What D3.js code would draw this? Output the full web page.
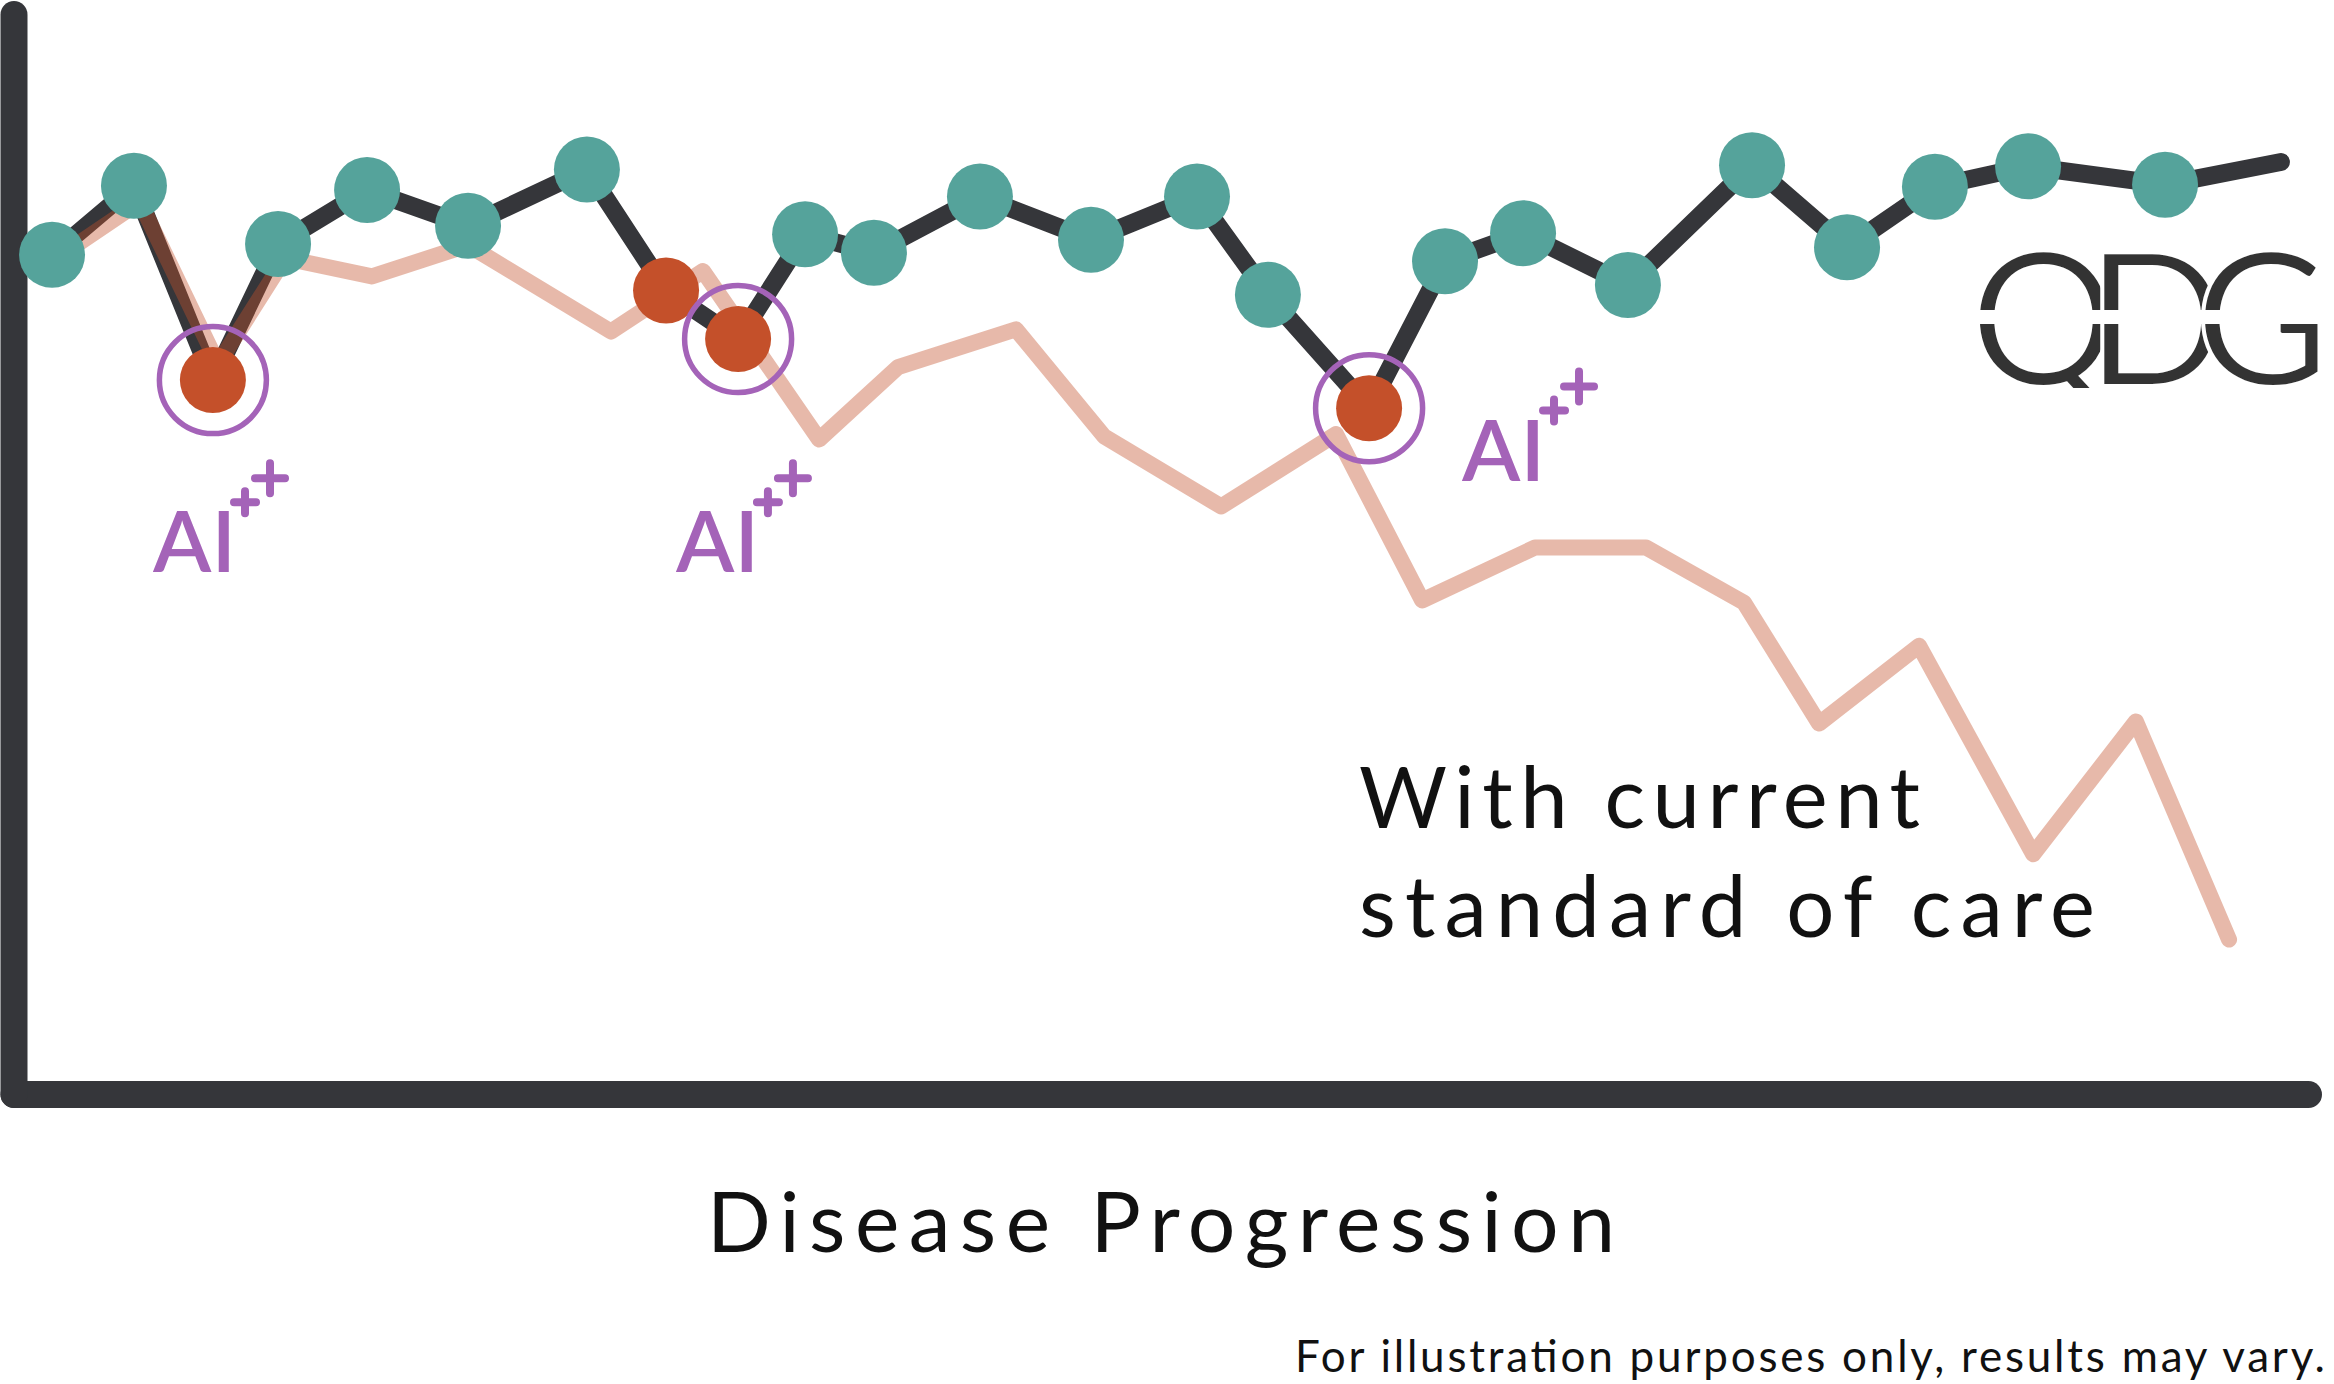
<!DOCTYPE html>
<html><head><meta charset="utf-8">
<script src="https://cdn.jsdelivr.net/npm/d3@7"></script>
<style>html,body{margin:0;padding:0;background:#fff;} svg{display:block;}</style>
</head><body>
<svg id="chart" width="2334" height="1384"></svg>
<script>
// ---- data (normalised units: x = disease progression 0..100, y = health 0..100)
const aiProgress = [1.68, 5.25, 8.69, 11.53, 15.41, 19.81, 24.99, 28.44, 31.58, 34.50, 37.50, 42.12, 46.96, 51.58, 54.67, 59.08, 62.39, 65.79, 70.36, 75.77, 79.91, 83.74, 87.80, 93.77, 98.82];
const aiHealth   = [77.7, 84.1, 66.1, 78.7, 83.7, 80.4, 85.6, 74.4, 69.9, 79.6, 77.9, 83.1, 79.1, 83.1, 74.0, 63.5, 77.1, 79.7, 74.9, 86.0, 78.4, 84.0, 85.9, 84.2, 86.3];
// n = checkpoint, e = adverse event, i = adverse event with AI intervention, "" = no marker
const aiMarker   = ["n","n","i","n","n","n","n","e","i","n","n","n","n","n","n","i","n","n","n","n","n","n","n","n",""];
const socProgress = [1.68, 5.51, 8.91, 11.84, 15.62, 19.81, 26.04, 30.05, 35.11, 38.55, 43.69, 47.53, 52.63, 57.64, 61.39, 66.31, 71.15, 75.42, 78.69, 83.05, 88.02, 92.50, 96.56];
const socHealth   = [77.1, 82.6, 67.6, 77.4, 75.7, 78.6, 70.6, 76.2, 60.6, 67.3, 70.8, 60.9, 54.4, 61.1, 45.7, 50.6, 50.6, 45.5, 34.3, 41.5, 22.2, 34.5, 14.3];
const aiLabelX = [6.08, 28.87, 63.13];
const aiLabelY = [48.3, 48.3, 56.8];
const aiLabelText = ["AI", "AI", "AI"];
const socLabelLines = ["With current", "standard of care"];
const socLabelX = 58.64;
const socLabelY = [24.6, 14.5];
const xTitle = "Disease Progression";
const footnote = "For illustration purposes only, results may vary.";
const logoText = "QDG";

// ---- styles
const DARK = "#35363a", TEAL = "#55a39b", ORANGE = "#c4502a", PURPLE = "#a463b8";
const FONT = "Lato, 'Open Sans', sans-serif";

const svg = d3.select("#chart");
const x = d3.scaleLinear().domain([0, 100]).range([13.5, 2308]);
const y = d3.scaleLinear().domain([0, 100]).range([1094, 14]);

// axes
const gx = svg.append("g").attr("transform", `translate(0,${y(0)})`)
  .call(d3.axisBottom(x).tickValues([]).tickSizeOuter(0));
const gy = svg.append("g").attr("transform", `translate(${x(0)},0)`)
  .call(d3.axisLeft(y).tickValues([]).tickSizeOuter(0));
[gx, gy].forEach(g => g.select(".domain")
  .attr("stroke", DARK).attr("stroke-width", 27)
  .attr("stroke-linecap", "round").attr("stroke-linejoin", "round"));

const line = d3.line().x(d => x(d[0])).y(d => y(d[1]));
const aiData = aiProgress.map((p, i) => [p, aiHealth[i], aiMarker[i]]);
const socData = socProgress.map((p, i) => [p, socHealth[i]]);

svg.append("path").datum(aiData).attr("d", line)
  .attr("fill", "none").attr("stroke", DARK).attr("stroke-width", 18)
  .attr("stroke-linejoin", "round").attr("stroke-linecap", "round");
svg.append("path").datum(socData).attr("d", line)
  .attr("fill", "none").attr("stroke", ORANGE).attr("stroke-opacity", 0.4).attr("stroke-width", 16)
  .attr("stroke-linejoin", "round").attr("stroke-linecap", "round");

svg.append("g").selectAll("circle").data(aiData.filter(d => d[2] !== "")).join("circle")
  .attr("cx", d => x(d[0])).attr("cy", d => y(d[1])).attr("r", 33)
  .attr("fill", d => d[2] === "n" ? TEAL : ORANGE);
svg.append("g").selectAll("circle").data(aiData.filter(d => d[2] === "i")).join("circle")
  .attr("cx", d => x(d[0])).attr("cy", d => y(d[1])).attr("r", 53.5)
  .attr("fill", "none").attr("stroke", PURPLE).attr("stroke-width", 5.5);

// AI labels with sparkle pluses
const plus = (cx, cy, h) => `M${cx - h},${cy}H${cx + h}M${cx},${cy - h}V${cy + h}`;
aiLabelX.forEach((lx, i) => {
  const px = x(lx), py = y(aiLabelY[i]);
  svg.append("text").attr("x", px).attr("y", py).text(aiLabelText[i])
    .attr("font-family", FONT).attr("font-size", 85).attr("font-weight", 600).attr("fill", PURPLE)
    .attr("textLength", 83).attr("lengthAdjust", "spacing");
  svg.append("path").attr("d", plus(px + 92, py - 70, 11) + plus(px + 117, py - 94, 15))
    .attr("stroke", PURPLE).attr("stroke-width", 8).attr("stroke-linecap", "round").attr("fill", "none");
});

// series label
const socWidths = [561, 736];
socLabelLines.forEach((t, i) => {
  svg.append("text").attr("x", x(socLabelX)).attr("y", y(socLabelY[i])).text(t)
    .attr("font-family", FONT).attr("font-size", 85).attr("fill", "#111")
    .attr("textLength", socWidths[i]).attr("lengthAdjust", "spacing");
});

// axis title & footnote
svg.append("text").attr("x", 707).attr("y", 1252).text(xTitle)
  .attr("font-family", FONT).attr("font-size", 84).attr("fill", "#111")
  .attr("textLength", 908).attr("lengthAdjust", "spacing");
svg.append("text").attr("x", 1295).attr("y", 1372).text(footnote)
  .attr("font-family", FONT).attr("font-size", 44).attr("fill", "#111")
  .attr("textLength", 1030).attr("lengthAdjust", "spacing");

// logo
const defs = svg.append("defs");
defs.append("clipPath").attr("id", "logoClip")
  .append("rect").attr("x", 1950).attr("y", 240).attr("width", 384).attr("height", 148);
const logo = svg.append("g").attr("clip-path", "url(#logoClip)");
logo.append("text").attr("x", 1969).attr("y", 386).text(logoText)
  .attr("font-family", FONT).attr("font-size", 186).attr("font-weight", 400).attr("fill", "#333")
  .attr("stroke", "#fff").attr("stroke-width", 4)
  .attr("textLength", 361).attr("lengthAdjust", "spacing");
logo.append("rect").attr("x", 1955).attr("y", 310).attr("width", 390).attr("height", 14).attr("fill", "#fff");
</script>
</body></html>
